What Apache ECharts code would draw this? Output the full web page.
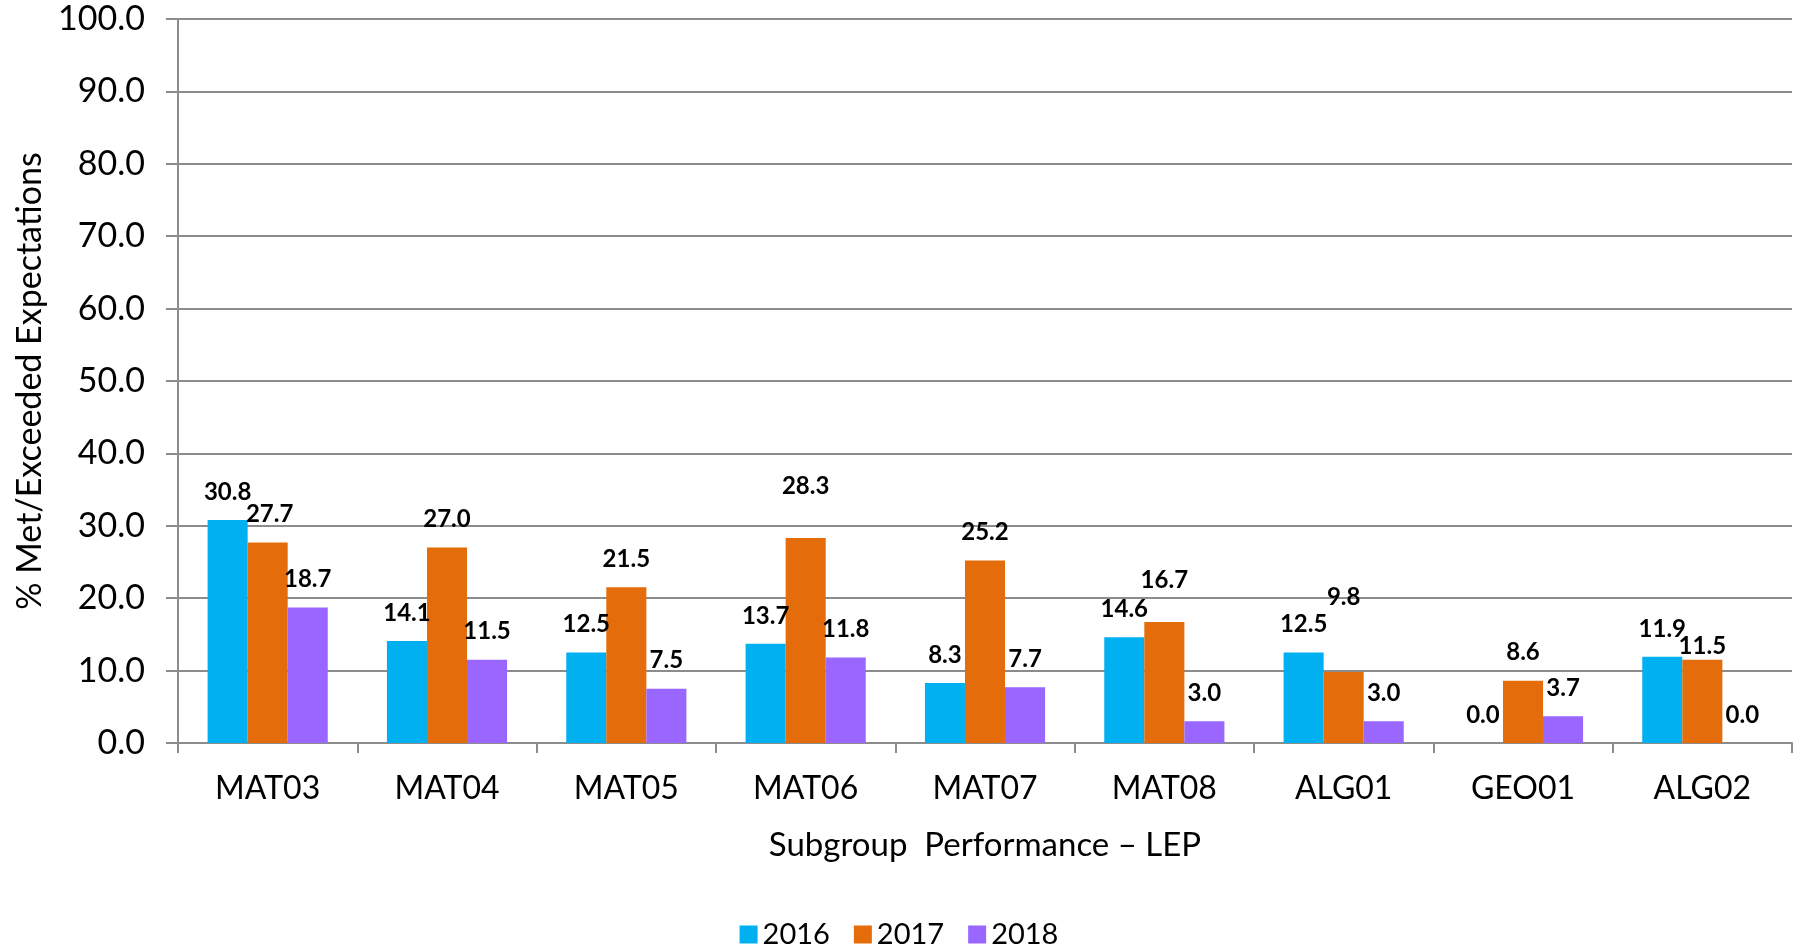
<!DOCTYPE html>
<html>
<head>
<meta charset="utf-8">
<script src="https://cdn.jsdelivr.net/npm/echarts@6/dist/echarts.min.js"></script>
<style>
  html, body { margin: 0; padding: 0; background: #fff; }
  #chart { width: 1798px; height: 947px; }
</style>
</head>
<body>
<div id="chart"></div>
<script>
// 数据
const categories = ['MAT03', 'MAT04', 'MAT05', 'MAT06', 'MAT07', 'MAT08', 'ALG01', 'GEO01', 'ALG02'];
const years = ['2016', '2017', '2018'];
const values2016 = [30.8, 14.1, 12.5, 13.7, 8.3, 14.6, 12.5, 0.0, 11.9];
const values2017 = [27.7, 27.0, 21.5, 28.3, 25.2, 16.7, 9.8, 8.6, 11.5];
const values2018 = [18.7, 11.5, 7.5, 11.8, 7.7, 3.0, 3.0, 3.7, 0.0];

const colors = ['#00B0F0', '#E46C0A', '#9966FF'];
const fontFamily = 'Lato, "Liberation Sans", sans-serif';

// 手动挪动过的标签（参照原图）
const labelNudge2017 = [[2, 0], [0, 0], [0, 0], [0, -24], [0, 0], [0, -14], [0, -47], [0, 0], [0, 15]];

function buildSeries(name, values, color, nudge) {
    return {
        name: name,
        type: 'bar',
        barGap: '0%',
        barCategoryGap: '33%',
        itemStyle: { color: color },
        label: {
            show: true,
            position: 'top',
            distance: 16,
            color: '#000',
            fontFamily: fontFamily,
            fontWeight: 'bold',
            fontSize: 24,
            formatter: p => Number(p.value).toFixed(1)
        },
        data: values.map((v, i) => {
            const item = { value: v };
            if (nudge && (nudge[i][0] || nudge[i][1])) {
                item.label = { offset: nudge[i] };
            }
            return item;
        })
    };
}

const chart = echarts.init(document.getElementById('chart'));
const option = {
    animation: false,
    textStyle: { fontFamily: fontFamily },
    grid: { left: 178, right: 6, top: 19, bottom: 204 },
    legend: {
        data: years,
        left: 'center',
        top: 915,
        itemWidth: 18,
        itemHeight: 18,
        itemGap: 24,
        icon: 'rect',
        textStyle: { fontFamily: fontFamily, fontSize: 29, color: '#000' }
    },
    xAxis: {
        type: 'category',
        data: categories,
        name: 'Subgroup  Performance \u2013 LEP',
        nameLocation: 'middle',
        nameGap: 86,
        nameTextStyle: { fontFamily: fontFamily, fontSize: 33, color: '#000' },
        axisLine: { lineStyle: { color: '#8C8C8C', width: 2 } },
        axisTick: { show: true, length: 10, lineStyle: { color: '#8C8C8C', width: 2 } },
        axisLabel: { fontFamily: fontFamily, fontSize: 32, color: '#000', margin: 30 }
    },
    yAxis: {
        type: 'value',
        min: 0,
        max: 100,
        interval: 10,
        name: '% Met/Exceeded Expectations',
        nameLocation: 'middle',
        nameGap: 130,
        nameRotate: 90,
        nameTextStyle: { fontFamily: fontFamily, fontSize: 34, color: '#000' },
        axisLine: { show: true, lineStyle: { color: '#8C8C8C', width: 2 } },
        axisTick: { show: true, length: 12, lineStyle: { color: '#8C8C8C', width: 2 } },
        axisLabel: {
            fontFamily: fontFamily, fontSize: 34, color: '#000', margin: 33,
            formatter: v => v.toFixed(1)
        },
        splitLine: { lineStyle: { color: '#8C8C8C', width: 2 } }
    },
    series: [
        buildSeries('2016', values2016, colors[0]),
        buildSeries('2017', values2017, colors[1], labelNudge2017),
        buildSeries('2018', values2018, colors[2])
    ]
};
chart.setOption(option);
window.addEventListener('resize', () => chart.resize());
</script>
</body>
</html>
